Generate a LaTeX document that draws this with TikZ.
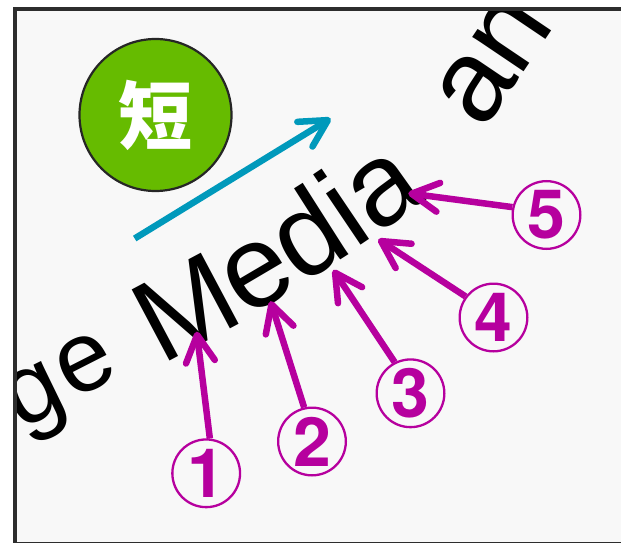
\documentclass[tikz,border=0pt]{standalone}
\usepackage{fontspec}
\setmainfont{Liberation Sans}
\newfontfamily\txtfont{Liberation Sans}
\newfontfamily\numfont{TeX Gyre Heros}
\newfontfamily\cjkfont{Noto Sans CJK JP}
\usetikzlibrary{arrows.meta}
\definecolor{bgc}{RGB}{248,248,248}
\definecolor{framec}{RGB}{45,45,45}
\definecolor{mag}{RGB}{182,0,158}
\definecolor{teal2}{RGB}{0,153,187}
\definecolor{grn}{RGB}{102,187,0}
\begin{document}
\begin{tikzpicture}[x=1pt,y=-1pt,
  ltr/.style={inner sep=0pt, outer sep=0pt, anchor=base west, font=\fontsize{117}{117}\selectfont\txtfont, text=black},
  ltrs/.style={ltr, font=\fontsize{100}{100}\selectfont\txtfont},
  num/.style={circle, draw=mag, line width=2.3pt, minimum size=67.7pt, inner sep=0pt, text=mag, font=\fontsize{68}{68}\selectfont\numfont\bfseries},
  marr/.style={draw=mag, line width=6.5pt, -{Straight Barb[length=27pt,width=29pt,round]}},
  tarr/.style={draw=teal2, line width=6.5pt, -{Straight Barb[length=27pt,width=29pt,round]}}
]
\useasboundingbox (0,0) rectangle (621,543);
\clip (0,0) rectangle (621,543);
\fill[white] (0,0) rectangle (621,543);
\fill[bgc] (15.3,9.3) rectangle (625,545);
\draw[framec, line width=4pt] (15.3,9.3) rectangle (625,543.5);

% circle with character
\node[circle, draw=black!85, line width=2.2pt, fill=grn, minimum size=152pt, inner sep=0pt,
      text=white, font=\fontsize{74}{74}\selectfont\cjkfont\bfseries] (kan) at (155.5,115) {短};

% teal arrow
\coordinate (ta) at (134.7,238.5);
\coordinate (tb) at (330.7,118.4);
\draw[tarr] (ta) -- (tb);

% rotated text
\begin{scope}
\clip (17.3,11.3) rectangle (621,541);
\node[ltrs, rotate=26] (l1) at (20,430) {g};
\node[ltrs, rotate=27] (l2) at (72,400) {e};
\node[ltr, rotate=28] (l3) at (161,365) {M};
\node[ltr, rotate=30.5] (l4) at (245.5,318.6) {e};
\node[ltr, rotate=32.5] (l5) at (300.5,285) {d};
\node[ltr, rotate=34] (l6) at (354.5,249.5) {i};
\node[ltr, rotate=35.5] (l7) at (376.5,235) {a};
\node[ltr, rotate=56] (l8) at (483,131) {a};
\node[ltr, rotate=56] (l9) at (519.7,78.6) {n};
\end{scope}

% circled numbers
\node[num] (n1) at (206.2,473.3) {1};
\node[num] (n2) at (312,441.5) {2};
\node[num] (n3) at (410.5,393.3) {3};
\node[num] (n4) at (493.5,317.5) {4};
\node[num] (n5) at (546.5,215) {5};

\coordinate (t1) at (196.7,331.7);
\coordinate (t2) at (270.5,301.2);
\coordinate (t3) at (333.3,270);
\coordinate (t4) at (378.3,239.3);
\coordinate (t5) at (408.3,193.3);

\draw[marr] (n1.84.6) -- (t1);
\draw[marr] (n2.103.3) -- (t2);
\draw[marr] (n3.117.9) -- (t3);
\draw[marr] (n4.143) -- (t4);
\draw[marr] (n5.167.8) -- (t5);
\end{tikzpicture}
\end{document}
